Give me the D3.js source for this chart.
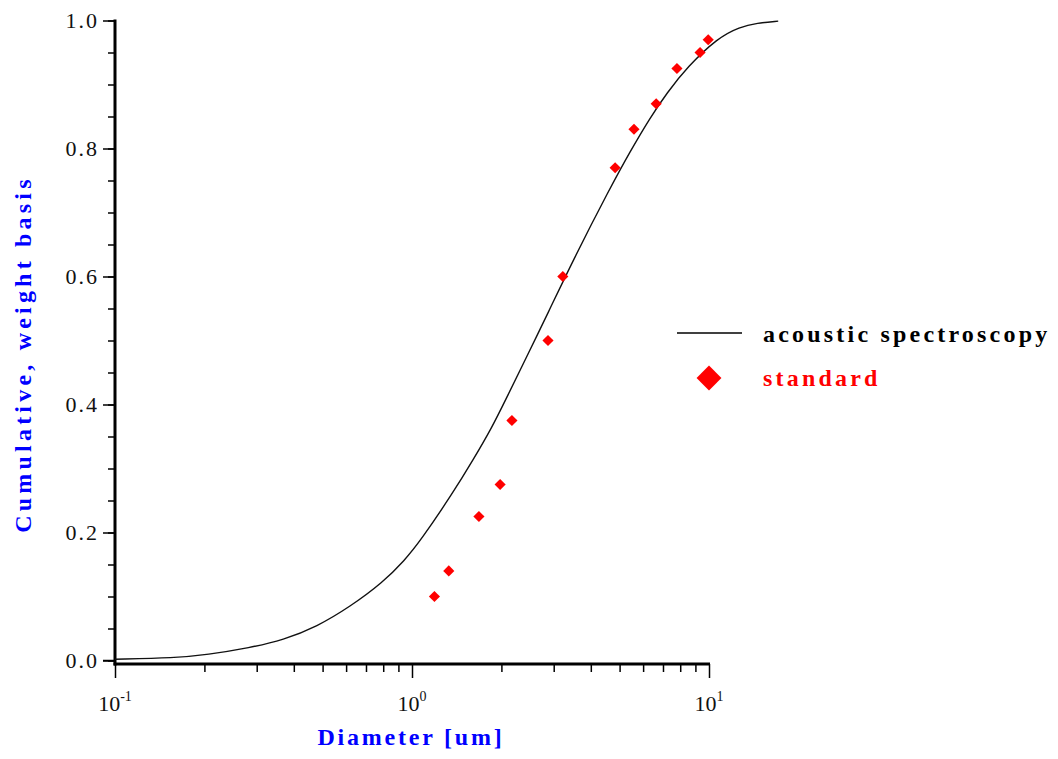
<!DOCTYPE html>
<html>
<head>
<meta charset="utf-8">
<script src="https://cdn.jsdelivr.net/npm/d3@7"></script>
<style>
  html, body { margin: 0; padding: 0; background: #fff; }
  svg text { font-family: "Liberation Serif", "Times New Roman", serif; }
</style>
</head>
<body>
<svg id="chart" width="1058" height="759"></svg>
<script>
// Cumulative size distribution measured by acoustic spectroscopy (smooth curve)
const curveDiam = [0.1, 0.159, 0.204, 0.285, 0.368, 0.479, 0.618, 0.798, 0.946, 1.064,
                   1.374, 1.604, 1.858, 2.055, 2.495, 2.85, 3.49, 4.64, 5.42, 6.33,
                   7.22, 8.44, 10.7, 12.7, 14.5, 17.1];
const curveCum  = [0.002, 0.004, 0.009, 0.020, 0.032, 0.053, 0.084, 0.122, 0.157, 0.186,
                   0.262, 0.313, 0.364, 0.405, 0.485, 0.540, 0.626, 0.738, 0.795, 0.848,
                   0.887, 0.927, 0.973, 0.990, 0.996, 0.999];

// Reference ("standard") sample points
const stdDiam = [1.19, 1.33, 1.68, 1.98, 2.17, 2.87, 3.22, 4.83, 5.59, 6.64, 7.80, 9.33, 9.94];
const stdCum  = [0.10, 0.14, 0.225, 0.275, 0.375, 0.50, 0.60, 0.77, 0.83, 0.87, 0.925, 0.95, 0.97];

// Axis ticks
const yMajor = [0, 0.2, 0.4, 0.6, 0.8, 1.0];
const yMinor = d3.range(0, 1.0001, 0.05);
const xMajor = [0.1, 1, 10];
const xMajorExp = ["-1", "0", "1"];
const xMinor = [0.2, 0.3, 0.4, 0.5, 0.6, 0.7, 0.8, 0.9, 2, 3, 4, 5, 6, 7, 8, 9];

const legendLabels = ["acoustic spectroscopy", "standard"];

const svg = d3.select("#chart");

const x = d3.scaleLog().domain([0.1, 10]).range([115, 709]);
const y = d3.scaleLinear().domain([0, 1]).range([660.5, 20.5]);
const xAxisY = 664;

// ---- y axis ----
const yMinorAxis = d3.axisLeft(y).tickValues(yMinor).tickSize(7).tickFormat("");
const gyMinor = svg.append("g").attr("transform", `translate(${x(0.1)},0)`).call(yMinorAxis);
gyMinor.select(".domain").remove();
gyMinor.selectAll("line").attr("stroke", "#000").attr("stroke-width", 1.5);

const yAxis = d3.axisLeft(y).tickValues(yMajor).tickSize(12).tickPadding(6)
  .tickFormat(d3.format(".1f"));
const gy = svg.append("g").attr("transform", `translate(${x(0.1)},0)`).call(yAxis);
gy.select(".domain").remove();
gy.selectAll("line").attr("stroke", "#000").attr("stroke-width", 1.5);
gy.selectAll("text")
  .attr("font-family", "Liberation Serif")
  .attr("font-size", 22)
  .attr("letter-spacing", 2)
  .attr("fill", "#111")
  .attr("dx", 2);

svg.append("line")
  .attr("x1", x(0.1)).attr("x2", x(0.1))
  .attr("y1", y(1) - 1).attr("y2", xAxisY + 1.5)
  .attr("stroke", "#000").attr("stroke-width", 3);

// ---- x axis ----
const xMinorAxis = d3.axisBottom(x).tickValues(xMinor).tickSize(8).tickFormat("");
const gxMinor = svg.append("g").attr("transform", `translate(0,${xAxisY})`).call(xMinorAxis);
gxMinor.select(".domain").remove();
gxMinor.selectAll("line").attr("stroke", "#000").attr("stroke-width", 1.5);

const xAxis = d3.axisBottom(x).tickValues(xMajor).tickSize(14).tickFormat("");
const gx = svg.append("g").attr("transform", `translate(0,${xAxisY})`).call(xAxis);
gx.select(".domain").remove();
gx.selectAll("line").attr("stroke", "#000").attr("stroke-width", 1.5);

svg.append("line")
  .attr("x1", x(0.1) - 1.5).attr("x2", x(10) + 1)
  .attr("y1", xAxisY).attr("y2", xAxisY)
  .attr("stroke", "#000").attr("stroke-width", 3);

// power-of-ten labels
const xl = svg.append("g").selectAll("text").data(xMajor).join("text")
  .attr("x", d => x(d))
  .attr("y", 711)
  .attr("text-anchor", "middle")
  .attr("font-size", 22)
  .attr("fill", "#111");
xl.append("tspan").text("10");
xl.append("tspan").attr("font-size", 14).attr("dy", -10)
  .text((d, i) => xMajorExp[i]);

// y = 0 reference tick line (drawn slightly above the x axis)
svg.append("line")
  .attr("x1", x(0.1) - 12).attr("x2", x(0.1))
  .attr("y1", y(0)).attr("y2", y(0))
  .attr("stroke", "#000").attr("stroke-width", 1.5);

// ---- axis titles ----
svg.append("text")
  .attr("x", 411).attr("y", 745)
  .attr("text-anchor", "middle")
  .attr("font-size", 24).attr("font-weight", "bold")
  .attr("letter-spacing", 2.8)
  .attr("fill", "#0000ff")
  .text("Diameter [um]");

svg.append("text")
  .attr("transform", "translate(31,354) rotate(-90)")
  .attr("text-anchor", "middle")
  .attr("font-size", 24).attr("font-weight", "bold")
  .attr("letter-spacing", 4.2)
  .attr("fill", "#0000ff")
  .text("Cumulative, weight basis");

// ---- acoustic spectroscopy curve ----
const line = d3.line()
  .x(i => x(curveDiam[i]))
  .y(i => y(curveCum[i]))
  .curve(d3.curveBasis);

svg.append("path")
  .attr("d", line(d3.range(curveDiam.length)))
  .attr("fill", "none")
  .attr("stroke", "#111")
  .attr("stroke-width", 1.4);

// ---- standard points ----
const diamond = d3.symbol().type(d3.symbolSquare).size(62);
svg.append("g").selectAll("path").data(d3.range(stdDiam.length)).join("path")
  .attr("d", diamond)
  .attr("transform", i => `translate(${x(stdDiam[i])},${y(stdCum[i])}) rotate(45)`)
  .attr("fill", "#ff0000");

// ---- legend ----
const lg = svg.append("g");
lg.append("line")
  .attr("x1", 677).attr("x2", 742).attr("y1", 333).attr("y2", 333)
  .attr("stroke", "#000").attr("stroke-width", 1.5);
lg.append("text")
  .attr("x", 763).attr("y", 342)
  .attr("font-size", 24).attr("font-weight", "bold")
  .attr("letter-spacing", 3.2)
  .attr("fill", "#000")
  .text(legendLabels[0]);
lg.append("path")
  .attr("d", d3.symbol().type(d3.symbolSquare).size(310))
  .attr("transform", "translate(709,378) rotate(45)")
  .attr("fill", "#ff0000");
lg.append("text")
  .attr("x", 763).attr("y", 386)
  .attr("font-size", 24).attr("font-weight", "bold")
  .attr("letter-spacing", 3.2)
  .attr("fill", "#ff0000")
  .text(legendLabels[1]);
</script>
</body>
</html>
